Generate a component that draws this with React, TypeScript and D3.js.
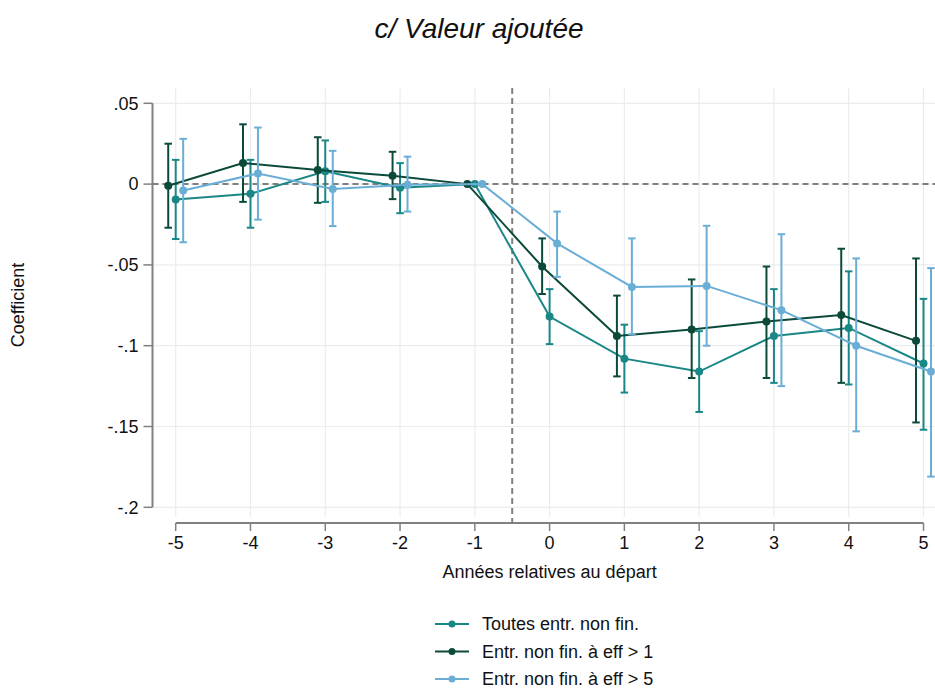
import React from "react";
import * as d3 from "d3";

const years = [-5, -4, -3, -2, -1, 0, 1, 2, 3, 4, 5];
const yTicks = [0.05, 0, -0.05, -0.1, -0.15, -0.2];
const yTickLabels = [".05", "0", "-.05", "-.1", "-.15", "-.2"];
const seriesNames = ["Toutes entr. non fin.", "Entr. non fin. à eff > 1", "Entr. non fin. à eff > 5"];
const seriesColors = ["#1a8787", "#0b4a3b", "#6aaed6"];
const seriesOffsets = [0, -0.1, 0.1];

const toutesCoef = [-0.0095, -0.006, 0.008, -0.0023, 0, -0.082, -0.108, -0.116, -0.094, -0.089, -0.111];
const toutesLow = [-0.034, -0.027, -0.011, -0.018, null, -0.099, -0.129, -0.141, -0.123, -0.124, -0.152];
const toutesHigh = [0.015, 0.015, 0.027, 0.013, null, -0.065, -0.087, -0.091, -0.065, -0.054, -0.071];

const eff1Coef = [-0.001, 0.013, 0.0087, 0.0051, 0, -0.051, -0.094, -0.09, -0.085, -0.081, -0.097];
const eff1Low = [-0.027, -0.011, -0.0116, -0.0093, null, -0.068, -0.119, -0.12, -0.12, -0.123, -0.1475];
const eff1High = [0.025, 0.037, 0.029, 0.02, null, -0.0336, -0.069, -0.059, -0.051, -0.04, -0.046];

const eff5Coef = [-0.004, 0.0066, -0.003, -0.0004, 0, -0.0367, -0.0636, -0.063, -0.078, -0.1, -0.116];
const eff5Low = [-0.036, -0.022, -0.026, -0.017, null, -0.0574, -0.093, -0.1, -0.125, -0.153, -0.181];
const eff5High = [0.028, 0.035, 0.0206, 0.017, null, -0.017, -0.0336, -0.0258, -0.031, -0.046, -0.052];

const coefs = [toutesCoef, eff1Coef, eff5Coef];
const lows = [toutesLow, eff1Low, eff5Low];
const highs = [toutesHigh, eff1High, eff5High];

const FONT = "'Liberation Sans', Arial, sans-serif";

export default function App() {
  const W = 935;
  const H = 688;
  const x = d3.scaleLinear().domain([-5, 5]).range([175.7, 923.5]);
  const y = d3.scaleLinear().domain([-0.2, 0.05]).range([507.3, 103.3]);
  const axisX = 152.5;
  const axisY = 523;
  const plotTop = 88;
  const plotBottom = 517;
  const line = d3
    .line<[number, number]>()
    .x((d) => d[0])
    .y((d) => d[1]);
  const capW = 7.5;

  return (
    <svg
      width={W}
      height={H}
      style={{ position: "absolute", left: 0, top: 0, background: "#fff", fontFamily: FONT }}
    >
      <rect x={0} y={0} width={W} height={H} fill="#fff" />
      {/* gridlines */}
      {yTicks.map((t, i) => (
        <line key={"hg" + i} x1={axisX} x2={W} y1={y(t)} y2={y(t)} stroke="#ececec" strokeWidth={1.2} />
      ))}
      {years.map((t, i) => (
        <line key={"vg" + i} x1={x(t)} x2={x(t)} y1={plotTop} y2={plotBottom} stroke="#ececec" strokeWidth={1.2} />
      ))}
      {/* reference lines */}
      <line x1={axisX} x2={W} y1={y(0)} y2={y(0)} stroke="#7f7f7f" strokeWidth={2} strokeDasharray="6,4" />
      <line x1={x(-0.5)} x2={x(-0.5)} y1={plotTop} y2={axisY} stroke="#7f7f7f" strokeWidth={2} strokeDasharray="6,4" />

      {/* y axis */}
      <line x1={axisX} x2={axisX} y1={y(0.05)} y2={y(-0.2)} stroke="#808080" strokeWidth={2} />
      {yTicks.map((t, i) => (
        <g key={"yt" + i}>
          <line x1={axisX - 9} x2={axisX} y1={y(t)} y2={y(t)} stroke="#808080" strokeWidth={1.5} />
          <text x={axisX - 14} y={y(t)} dy="0.35em" textAnchor="end" fontSize={18} fill="#111">
            {yTickLabels[i]}
          </text>
        </g>
      ))}
      <text
        transform={`translate(18,${305}) rotate(-90)`}
        textAnchor="middle"
        dy="0.35em"
        fontSize={18}
        fill="#111"
      >
        Coefficient
      </text>

      {/* x axis */}
      <line x1={x(-5)} x2={x(5)} y1={axisY} y2={axisY} stroke="#808080" strokeWidth={2} />
      {years.map((t, i) => (
        <g key={"xt" + i}>
          <line x1={x(t)} x2={x(t)} y1={axisY} y2={axisY + 8} stroke="#808080" strokeWidth={1.5} />
          <text x={x(t)} y={549} textAnchor="middle" fontSize={18} fill="#111">
            {String(t)}
          </text>
        </g>
      ))}
      <text x={x(0)} y={578} textAnchor="middle" fontSize={18} fill="#111">
        Années relatives au départ
      </text>

      {/* series */}
      {coefs.map((cs, si) => {
        const col = seriesColors[si];
        const pts: [number, number][] = years.map((yr, i) => [x(yr + seriesOffsets[si]), y(cs[i])]);
        return (
          <g key={"s" + si}>
            {years.map((yr, i) => {
              const lo = lows[si][i];
              const hi = highs[si][i];
              if (lo === null || hi === null) return null;
              const cx = x(yr + seriesOffsets[si]);
              return (
                <g key={"e" + i} stroke={col} strokeWidth={2}>
                  <line x1={cx} x2={cx} y1={y(hi)} y2={y(lo)} />
                  <line x1={cx - capW / 2} x2={cx + capW / 2} y1={y(hi)} y2={y(hi)} />
                  <line x1={cx - capW / 2} x2={cx + capW / 2} y1={y(lo)} y2={y(lo)} />
                </g>
              );
            })}
            <path d={line(pts) || ""} fill="none" stroke={col} strokeWidth={2} />
            {pts.map((p, i) => (
              <circle key={"c" + i} cx={p[0]} cy={p[1]} r={4} fill={col} />
            ))}
          </g>
        );
      })}

      {/* title */}
      <text x={479} y={38} textAnchor="middle" fontSize={28} fontStyle="italic" fill="#111">
        c/ Valeur ajoutée
      </text>

      {/* legend */}
      {seriesNames.map((n, i) => {
        const ly = 624 + i * 27.5;
        return (
          <g key={"lg" + i}>
            <line x1={435} x2={469} y1={ly} y2={ly} stroke={seriesColors[i]} strokeWidth={2} />
            <circle cx={452} cy={ly} r={3.5} fill={seriesColors[i]} />
            <text x={482} y={ly} dy="0.35em" fontSize={18} fill="#111">
              {n}
            </text>
          </g>
        );
      })}
    </svg>
  );
}
